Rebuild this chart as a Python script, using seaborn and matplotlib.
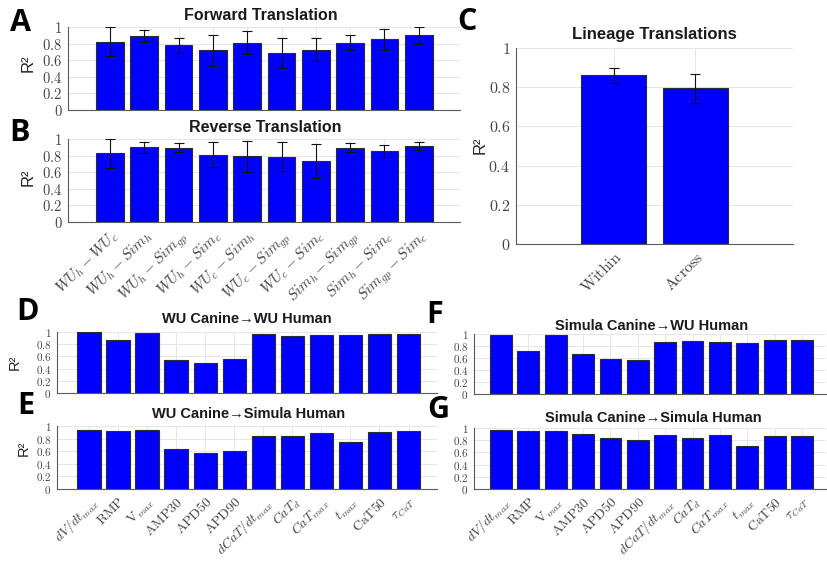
import numpy as np
import pandas as pd
import matplotlib
matplotlib.use('Agg')
import matplotlib.pyplot as plt
import seaborn as sns

# ---- data ----
pair_labels = [r'$WU_h - WU_c$', r'$WU_h - Sim_h$', r'$WU_h - Sim_{gp}$', r'$WU_h - Sim_c$',
               r'$WU_c - Sim_h$', r'$WU_c - Sim_{gp}$', r'$WU_c - Sim_c$',
               r'$Sim_h - Sim_{gp}$', r'$Sim_h - Sim_c$', r'$Sim_{gp} - Sim_c$']
fwd_mean = [0.82, 0.887, 0.786, 0.718, 0.81, 0.685, 0.726, 0.81, 0.85, 0.90]
fwd_lo = [0.65, 0.82, 0.69, 0.536, 0.68, 0.508, 0.589, 0.72, 0.72, 0.79]
fwd_hi = [1.0, 0.96, 0.87, 0.90, 0.955, 0.863, 0.87, 0.90, 0.97, 1.0]
rev_mean = [0.835, 0.90, 0.89, 0.806, 0.79, 0.778, 0.734, 0.89, 0.855, 0.91]
rev_lo = [0.645, 0.827, 0.84, 0.665, 0.60, 0.61, 0.536, 0.84, 0.778, 0.862]
rev_hi = [1.0, 0.96, 0.95, 0.96, 0.976, 0.96, 0.94, 0.95, 0.927, 0.96]

lineage_labels = [r'$\mathrm{Within}$', r'$\mathrm{Across}$']
lineage_mean = [0.86, 0.794]
lineage_lo = [0.823, 0.717]
lineage_hi = [0.898, 0.867]

feature_labels = [r'$dV/dt_{max}$', r'$\mathrm{RMP}$', r'$\mathrm{V}_{max}$', r'$\mathrm{AMP30}$',
                  r'$\mathrm{APD50}$', r'$\mathrm{APD90}$', r'$dCaT/dt_{max}$', r'$CaT_{d}$',
                  r'$CaT_{max}$', r'$t_{max}$', r'$\mathrm{CaT50}$', r'$\tau_{CaT}$']
wu_to_wu = [1.0, 0.87, 0.98, 0.535, 0.50, 0.55, 0.96, 0.93, 0.95, 0.95, 0.967, 0.97]
wu_to_sim = [0.94, 0.916, 0.93, 0.64, 0.576, 0.60, 0.84, 0.846, 0.89, 0.743, 0.90, 0.916]
sim_to_wu = [0.99, 0.715, 0.977, 0.66, 0.576, 0.56, 0.87, 0.884, 0.87, 0.855, 0.895, 0.895]
sim_to_sim = [0.97, 0.945, 0.956, 0.90, 0.84, 0.807, 0.89, 0.834, 0.884, 0.70, 0.862, 0.862]

ytick_vals = [0, 0.2, 0.4, 0.6, 0.8, 1.0]
ytick_labels = [r'$0$', r'$0.2$', r'$0.4$', r'$0.6$', r'$0.8$', r'$1$']

sns.set_theme(style='whitegrid')
plt.rcParams['font.family'] = ['Liberation Sans', 'DejaVu Sans']
plt.rcParams['mathtext.fontset'] = 'cm'

W, H = 827, 563
fig = plt.figure(figsize=(W / 100, H / 100), dpi=100)
fig.patch.set_facecolor('white')


def px_axes(x0, y0, x1, y1):
    return fig.add_axes([x0 / W, 1 - y1 / H, (x1 - x0) / W, (y1 - y0) / H])


def bar_panel(ax, labels, vals, lo=None, hi=None, xlim=None, ytick_size=8,
              xtick_size=9, show_xlabels=True):
    df = pd.DataFrame({'cat': labels, 'val': vals})
    sns.barplot(data=df, x='cat', y='val', color='#0000ff', saturation=1,
                edgecolor='#2b2b2b', linewidth=0.8, width=0.8, ax=ax)
    if lo is not None:
        v = np.array(vals)
        yerr = [v - np.array(lo), np.array(hi) - v]
        ax.errorbar(np.arange(len(vals)), v, yerr=yerr, fmt='none', ecolor='#111111',
                    elinewidth=0.8, capsize=3.5, capthick=0.8, zorder=4)
    ax.set_axisbelow(True)
    ax.grid(True, color='#e6e6e6', linewidth=0.7)
    ax.set_ylim(0, 1)
    ax.set_xlim(*xlim)
    ax.set_yticks(ytick_vals)
    ax.set_yticklabels(ytick_labels, fontsize=ytick_size, color='#444444')
    ax.set_xticks(np.arange(len(vals)))
    if show_xlabels:
        ax.set_xticklabels(labels, rotation=45, ha='right', rotation_mode='anchor',
                           fontsize=xtick_size, color='#444444')
    else:
        ax.set_xticklabels([])
    ax.set_xlabel('')
    ax.set_ylabel('')
    for s in ['top', 'right']:
        ax.spines[s].set_visible(False)
    for s in ['left', 'bottom']:
        ax.spines[s].set_color('#5a5a5a')
        ax.spines[s].set_linewidth(0.8)
    ax.tick_params(axis='both', direction='out', length=2.5, width=0.7,
                   color='#5a5a5a', pad=1.5)
    ax.set_facecolor('white')


# A, B
axA = px_axes(68, 27, 460, 110)
bar_panel(axA, pair_labels, fwd_mean, fwd_lo, fwd_hi, xlim=(-1.22, 10.2),
          ytick_size=10.5, show_xlabels=False)
axB = px_axes(68, 139, 460, 222)
bar_panel(axB, pair_labels, rev_mean, rev_lo, rev_hi, xlim=(-1.22, 10.2),
          ytick_size=10.5, xtick_size=11)

# C
axC = px_axes(516, 48, 793, 244)
bar_panel(axC, lineage_labels, lineage_mean, lineage_lo, lineage_hi, xlim=(-1.2, 2.2),
          ytick_size=11.5, xtick_size=11.5)

# D, E
axD = px_axes(57, 332, 437, 393)
bar_panel(axD, feature_labels, wu_to_wu, xlim=(-1.1, 11.98), ytick_size=8,
          show_xlabels=False)
axE = px_axes(57, 426, 437, 489)
bar_panel(axE, feature_labels, wu_to_sim, xlim=(-1.1, 11.98), ytick_size=8,
          xtick_size=10)

# F, G
axF = px_axes(474, 334, 826, 394)
bar_panel(axF, feature_labels, sim_to_wu, xlim=(-0.99, 11.88), ytick_size=8,
          show_xlabels=False)
axG = px_axes(474, 428, 826, 489)
bar_panel(axG, feature_labels, sim_to_sim, xlim=(-0.99, 11.88), ytick_size=8,
          xtick_size=10)


def ftext(x, y, s, **kw):
    fig.text(x / W, 1 - y / H, s, **kw)


# titles
title_kw = dict(ha='center', va='center', fontweight='bold', color='#1a1a1a')
ftext(261, 15, 'Forward Translation', fontsize=11.5, **title_kw)
ftext(265, 128, 'Reverse Translation', fontsize=11.5, **title_kw)
ftext(654, 35, 'Lineage Translations', fontsize=12, **title_kw)
ftext(247, 319, 'WU Canine\u2192WU Human', fontsize=10.5, **title_kw)
ftext(249, 414, 'WU Canine\u2192Simula Human', fontsize=10.5, **title_kw)
ftext(652, 326, 'Simula Canine\u2192WU Human', fontsize=10.5, **title_kw)
ftext(653, 418, 'Simula Canine\u2192Simula Human', fontsize=10.5, **title_kw)

# y labels
ylab_kw = dict(ha='center', va='center', rotation=90, color='#222222')
ftext(28, 63, 'R\u00b2', fontsize=12, **ylab_kw)
ftext(28, 177, 'R\u00b2', fontsize=12, **ylab_kw)
ftext(480, 145, 'R\u00b2', fontsize=12, **ylab_kw)
ftext(15, 362, 'R\u00b2', fontsize=10.5, **ylab_kw)
ftext(24, 448, 'R\u00b2', fontsize=10.5, **ylab_kw)

# panel letters
let_kw = dict(ha='center', va='center', fontweight='bold', color='black',
              family=['Open Sans', 'DejaVu Sans'])
for letter, x, y in [('A', 20, 23), ('B', 20, 133), ('C', 467, 22), ('D', 27, 312),
                     ('E', 26, 406), ('F', 435, 315), ('G', 438, 410)]:
    ftext(x, y, letter, fontsize=22, **let_kw)

fig.savefig('out.png', dpi=100, facecolor='white')
